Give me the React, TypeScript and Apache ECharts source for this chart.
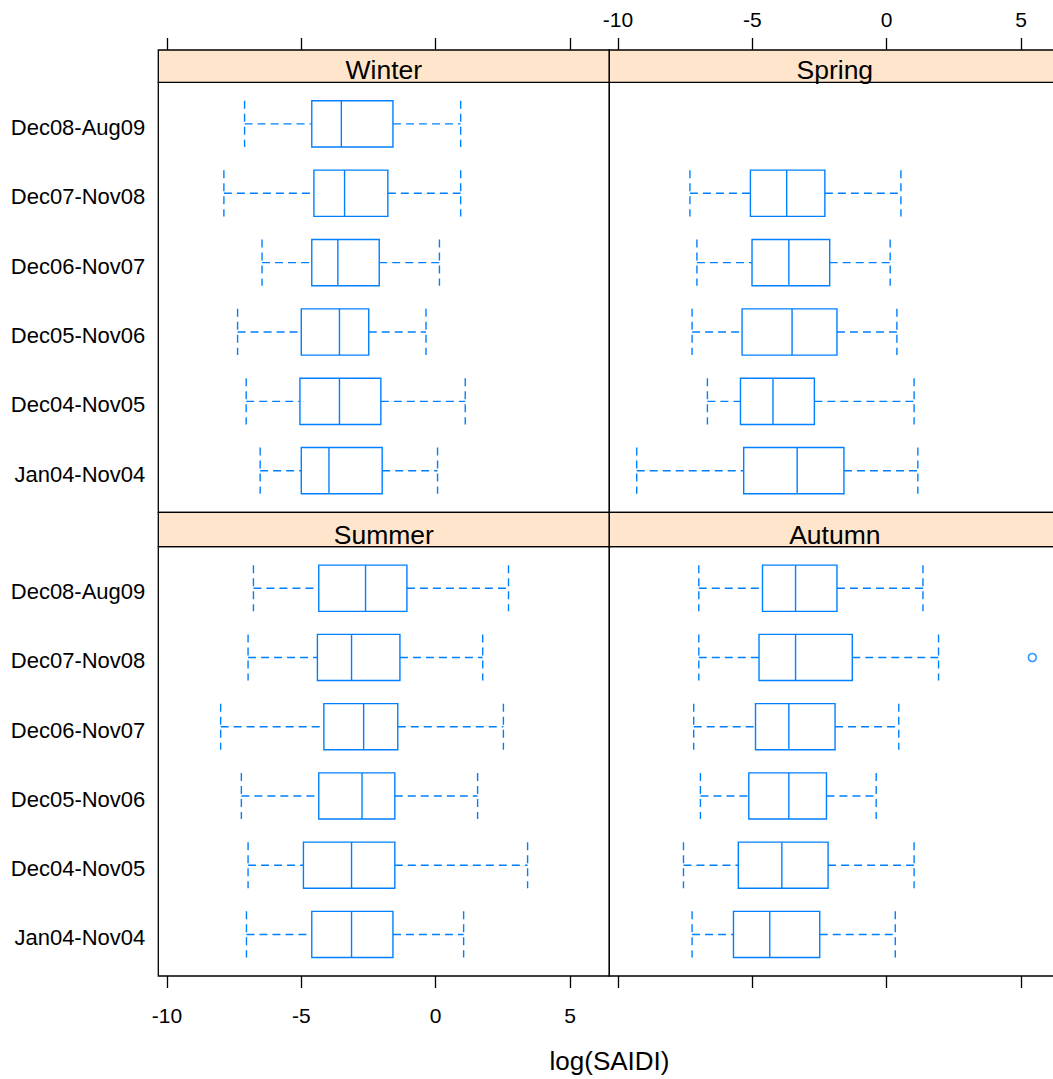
import React, { useEffect, useRef } from "react";
import * as echarts from "echarts";

const categories = ["Jan04-Nov04", "Dec04-Nov05", "Dec05-Nov06", "Dec06-Nov07", "Dec07-Nov08", "Dec08-Aug09"];
const seasons = ["Winter", "Spring", "Summer", "Autumn"];
const xTicks = [-10, -5, 0, 5];

// each row: [lower whisker, Q1, median, Q3, upper whisker], in the order of `categories`
const winterStats = [
  [-6.53, -5.0, -3.97, -1.99, 0.07],
  [-7.05, -5.05, -3.58, -2.04, 1.1],
  [-7.37, -5.0, -3.58, -2.49, -0.36],
  [-6.46, -4.61, -3.64, -2.1, 0.14],
  [-7.88, -4.53, -3.39, -1.78, 0.93],
  [-7.11, -4.61, -3.51, -1.59, 0.93],
];
const springStats = [
  [-9.3, -5.32, -3.33, -1.59, 1.16],
  [-6.67, -5.44, -4.23, -2.69, 1.02],
  [-7.24, -5.38, -3.52, -1.85, 0.38],
  [-7.06, -5.01, -3.64, -2.12, 0.13],
  [-7.32, -5.07, -3.72, -2.3, 0.53],
  null,
];
const summerStats = [
  [-7.04, -4.61, -3.13, -1.59, 1.04],
  [-6.98, -4.92, -3.13, -1.52, 3.42],
  [-7.23, -4.35, -2.74, -1.52, 1.56],
  [-8.0, -4.16, -2.68, -1.41, 2.52],
  [-6.98, -4.4, -3.13, -1.33, 1.75],
  [-6.78, -4.35, -2.61, -1.07, 2.71],
];
const autumnStats = [
  [-7.24, -5.7, -4.35, -2.49, 0.32],
  [-7.56, -5.52, -3.9, -2.18, 1.02],
  [-6.93, -5.13, -3.64, -2.24, -0.39],
  [-7.18, -4.88, -3.64, -1.92, 0.45],
  [-6.99, -4.75, -3.39, -1.28, 1.93],
  [-6.99, -4.62, -3.39, -1.85, 1.35],
];
const autumnOutlierValues = [5.42];
const autumnOutlierCategories = ["Dec07-Nov08"];

const FONT = "'Liberation Sans', Arial, Helvetica, sans-serif";
const BLUE = "#0080ff";
const STRIP = "#ffe5cc";

export default function App() {
  const ref = useRef<HTMLDivElement>(null);

  useEffect(() => {
    if (!ref.current) return;
    const chart = echarts.init(ref.current, undefined, { renderer: "svg" });

    const allStats = [winterStats, springStats, summerStats, autumnStats];
    const colLeft = [158.3, 609.3];
    const panelW = 451;
    const rowTop = [82.3, 546.7];
    const rowH = [430, 429.3];
    const stripTop = [50, 512.3];
    const stripH = [32.3, 34.4];
    const stripTextY = [69.8, 534.8];

    const grids: any[] = [];
    const xAxes: any[] = [];
    const yAxes: any[] = [];
    const series: any[] = [];
    const graphics: any[] = [];

    const renderItem = (params: any, api: any) => {
      const yi = api.value(0);
      const lo = api.value(1);
      const q1 = api.value(2);
      const md = api.value(3);
      const q3 = api.value(4);
      const hi = api.value(5);
      const h = 1 / 3;
      const pLo = api.coord([lo, yi]);
      const pQ1 = api.coord([q1, yi]);
      const pMd = api.coord([md, yi]);
      const pQ3 = api.coord([q3, yi]);
      const pHi = api.coord([hi, yi]);
      const yTop = api.coord([lo, yi + h])[1];
      const yBot = api.coord([lo, yi - h])[1];
      const dashed = { stroke: BLUE, lineWidth: 1.4, lineDash: [8, 5], fill: "none" };
      const solid = { stroke: BLUE, lineWidth: 1.4, fill: "none" };
      return {
        type: "group",
        children: [
          { type: "line", shape: { x1: pLo[0], y1: pLo[1], x2: pQ1[0], y2: pQ1[1] }, style: dashed },
          { type: "line", shape: { x1: pQ3[0], y1: pQ3[1], x2: pHi[0], y2: pHi[1] }, style: dashed },
          { type: "line", shape: { x1: pLo[0], y1: yTop, x2: pLo[0], y2: yBot }, style: dashed },
          { type: "line", shape: { x1: pHi[0], y1: yTop, x2: pHi[0], y2: yBot }, style: dashed },
          { type: "rect", shape: { x: pQ1[0], y: yTop, width: pQ3[0] - pQ1[0], height: yBot - yTop }, style: solid },
          { type: "line", shape: { x1: pMd[0], y1: yTop, x2: pMd[0], y2: yBot }, style: solid },
        ],
      };
    };

    for (let p = 0; p < 4; p++) {
      const row = Math.floor(p / 2);
      const col = p % 2;
      grids.push({
        left: colLeft[col],
        top: rowTop[row],
        width: panelW,
        height: rowH[row],
        show: true,
        borderColor: "#000",
        borderWidth: 1.3,
        backgroundColor: "transparent",
      });
      const showXLabels = (row === 0 && col === 1) || (row === 1 && col === 0);
      xAxes.push({
        type: "value",
        gridIndex: p,
        min: -10.32,
        max: 6.46,
        position: row === 0 ? "top" : "bottom",
        offset: row === 0 ? rowTop[0] - stripTop[0] : 0,
        axisLine: { show: false },
        splitLine: { show: false },
        axisTick: {
          show: true,
          inside: false,
          length: 12,
          customValues: xTicks,
          lineStyle: { color: "#000", width: 1.3 },
        },
        axisLabel: {
          show: showXLabels,
          customValues: xTicks,
          margin: row === 0 ? 20 : 29,
          fontSize: 21,
          fontFamily: FONT,
          color: "#000",
        },
      });
      yAxes.push({
        type: "value",
        gridIndex: p,
        min: 0.4,
        max: 6.6,
        axisLine: { show: false },
        axisTick: { show: false },
        splitLine: { show: false },
        axisLabel: {
          show: col === 0,
          customValues: [1, 2, 3, 4, 5, 6],
          formatter: (v: number) => categories[Math.round(v) - 1] ?? "",
          margin: 13,
          fontSize: 22,
          fontFamily: FONT,
          color: "#000",
          verticalAlign: "top",
          lineHeight: 7,
        },
      });
      const data = allStats[p]
        .map((s, i) => (s ? [i + 1, ...s] : null))
        .filter((d) => d !== null);
      series.push({
        type: "custom",
        xAxisIndex: p,
        yAxisIndex: p,
        renderItem,
        encode: { x: [1, 2, 3, 4, 5], y: 0 },
        data,
        silent: true,
      });

      graphics.push({
        type: "rect",
        shape: { x: colLeft[col], y: stripTop[row], width: panelW, height: stripH[row] },
        style: { fill: STRIP, stroke: "#000", lineWidth: 1.3 },
        z: 10,
      });
      graphics.push({
        type: "text",
        x: colLeft[col] + panelW / 2,
        y: stripTextY[row],
        style: {
          text: seasons[p],
          fill: "#000",
          font: `26.5px ${FONT}`,
          textAlign: "center",
          textVerticalAlign: "middle",
        },
        z: 11,
      });
    }

    series.push({
      type: "scatter",
      xAxisIndex: 3,
      yAxisIndex: 3,
      symbol: "circle",
      symbolSize: 8,
      itemStyle: { color: "#fff", borderColor: BLUE, borderWidth: 1.6 },
      data: autumnOutlierValues.map((v, i) => [v, categories.indexOf(autumnOutlierCategories[i]) + 1]),
      silent: true,
    });

    graphics.push({
      type: "text",
      x: 609.5,
      y: 1061,
      style: {
        text: "log(SAIDI)",
        fill: "#000",
        font: `26px ${FONT}`,
        textAlign: "center",
        textVerticalAlign: "middle",
      },
    });

    chart.setOption({
      animation: false,
      backgroundColor: "#fff",
      grid: grids,
      xAxis: xAxes,
      yAxis: yAxes,
      series,
      graphic: graphics,
    });

    return () => chart.dispose();
  }, []);

  return (
    <div
      style={{ position: "fixed", left: 0, top: 0, width: 1053, height: 1079, overflow: "hidden", background: "#fff" }}
    >
      <div ref={ref} style={{ width: 1075, height: 1079 }} />
    </div>
  );
}
